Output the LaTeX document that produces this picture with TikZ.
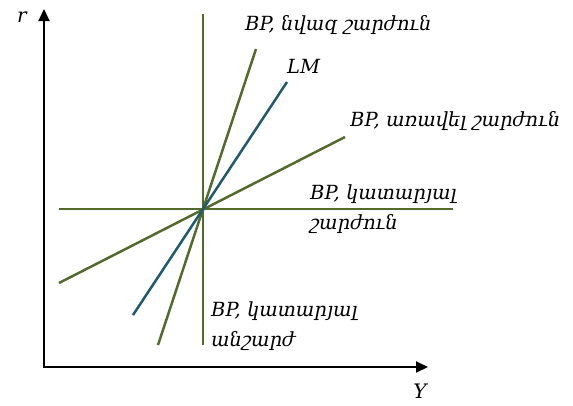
\documentclass[tikz,border=0pt]{standalone}
\usepackage{fontspec}
\setmainfont{DejaVu Serif}
\usetikzlibrary{positioning,arrows.meta}

\definecolor{bpgreen}{RGB}{84,106,44}
\definecolor{lmblue}{RGB}{33,89,110}

\tikzset{
  axis/.style={line width=2pt, {Triangle[length=12pt,width=11pt]}-{Triangle[length=12pt,width=11pt]}},
  bpline/.style={bpgreen, line width=2.5pt},
  lmline/.style={lmblue, line width=2.5pt},
  curvelabel/.style={font=\itshape\fontsize{19.5}{30}\selectfont, inner sep=0pt, anchor=base west, align=left},
  axislabel/.style={font=\itshape\fontsize{20}{24}\selectfont, inner sep=0pt, anchor=base},
}

\begin{document}
\begin{tikzpicture}[x=1pt,y=-1pt]
\useasboundingbox (0,0) rectangle (573,405);

% --- axes
\coordinate (O) at (44,367);
\coordinate (rtop) at (44,9);
\coordinate (yend) at (428,367);
\draw[axis] (rtop) -- (O) -- (yend);
\node[axislabel] (r) at (22,22) {r};
\node[axislabel] (Y) at (420,398) {Y};

% --- lines through the equilibrium point
\coordinate (E) at (203,209);
\coordinate (vtop) at (203,14);
\coordinate (vbot) at (203,345);
\coordinate (hleft) at (59,209);
\coordinate (hright) at (453,209);
\coordinate (steepbot) at (158,345);
\coordinate (steeptop) at (256,49);
\coordinate (flatleft) at (59,283);
\coordinate (flatright) at (345,137);
\coordinate (lmbot) at (133,315);
\coordinate (lmtop) at (287,82);

\draw[bpline] (vbot) -- (vtop);
\draw[bpline] (hleft) -- (hright);
\draw[bpline] (steepbot) -- (steeptop);
\draw[bpline] (flatleft) -- (flatright);
\draw[lmline] (lmbot) -- (lmtop);

% --- labels (two-line nodes sit on their last baseline)
\node[curvelabel] (bpsteep) at (245,30) {BP, նվազ շարժուն};
\node[curvelabel] (lm) at (287,73) {LM};
\node[curvelabel] (bpflat) at (350,126) {BP, առավել շարժուն};
\node[curvelabel] (bphoriz) at (310,229) {BP, կատարյալ\\շարժուն};
\node[curvelabel] (bpvert) at (211,346) {BP, կատարյալ\\անշարժ};

\end{tikzpicture}
\end{document}
